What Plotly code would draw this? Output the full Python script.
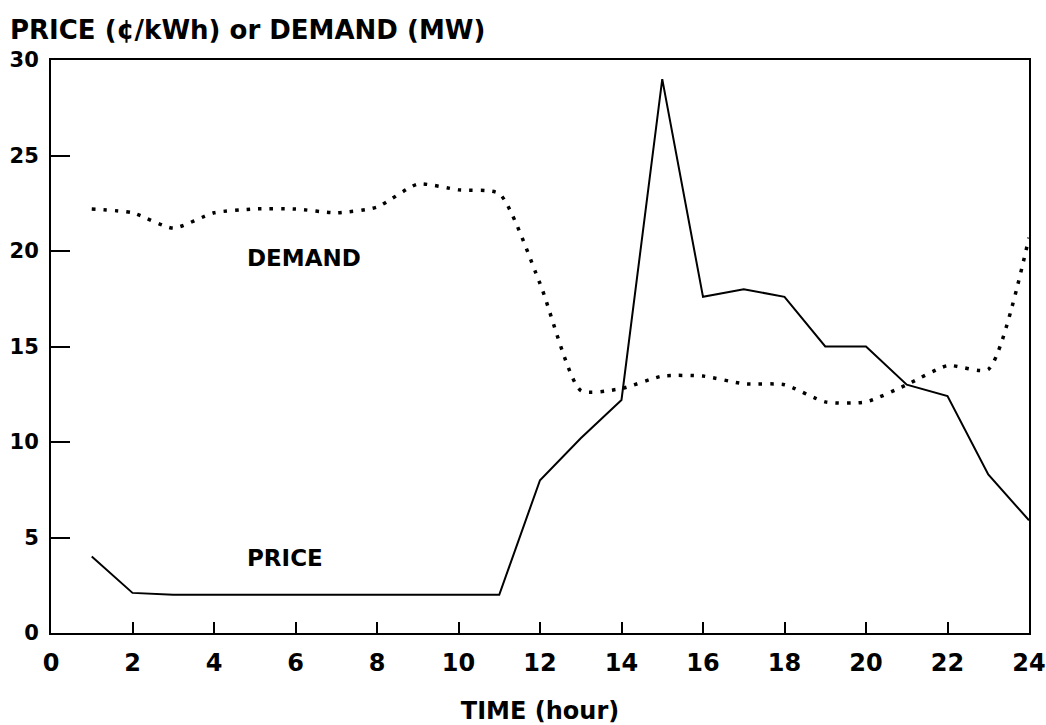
import plotly.graph_objects as go

hours = list(range(1, 25))
price = [4.0, 2.1, 2.0, 2.0, 2.0, 2.0, 2.0, 2.0, 2.0, 2.0, 2.0, 8.0,
         10.2, 12.2, 29.0, 17.6, 18.0, 17.6, 15.0, 15.0, 13.0, 12.4, 8.3, 5.9]
demand = [22.2, 22.0, 21.2, 22.0, 22.2, 22.2, 22.0, 22.3, 23.5, 23.2, 23.0, 18.3,
          12.7, 12.8, 13.45, 13.45, 13.05, 13.0, 12.1, 12.1, 13.0, 14.0, 13.8, 20.7]
x_ticks = list(range(0, 25, 2))
y_ticks = [0, 5, 10, 15, 20, 25, 30]

FONT = "DejaVu Sans"

fig = go.Figure()
fig.add_trace(go.Scatter(x=hours, y=demand, mode="lines",
                         line=dict(color="black", width=3.5, dash="3.5px,8px",
                                   shape="spline", smoothing=0.6),
                         showlegend=False))
fig.add_trace(go.Scatter(x=hours, y=price, mode="lines",
                         line=dict(color="black", width=2),
                         showlegend=False))

fig.add_annotation(x=6.2, y=19.65, text="<b>DEMAND</b>", showarrow=False,
                   font=dict(family=FONT, size=23, color="black"))
fig.add_annotation(x=5.75, y=3.95, text="<b>PRICE</b>", showarrow=False,
                   font=dict(family=FONT, size=23, color="black"))
fig.add_annotation(xref="paper", yref="paper", x=-0.044, y=1.0, yshift=30,
                   xanchor="left", yanchor="middle",
                   text="<b>PRICE (¢/kWh) or DEMAND (MW)</b>", showarrow=False,
                   font=dict(family=FONT, size=26, color="black"))

fig.update_layout(
    width=1046, height=725,
    margin=dict(l=51, r=17, t=60, b=92),
    paper_bgcolor="white", plot_bgcolor="white",
    font=dict(family=FONT, color="black"),
    xaxis=dict(range=[0, 24], tickvals=x_ticks, ticktext=[f"<b>{v}</b>" for v in x_ticks],
               ticks="inside", ticklen=11, tickwidth=2, tickcolor="black",
               showline=True, linewidth=2, linecolor="black", mirror=True,
               showgrid=False, zeroline=False, automargin=False,
               tickfont=dict(family=FONT, size=24, color="black"),
               ticklabelstandoff=7,
               title=dict(text="<b>TIME (hour)</b>", standoff=38,
                          font=dict(family=FONT, size=24, color="black"))),
    yaxis=dict(range=[0, 30], tickvals=y_ticks, ticktext=[f"<b>{v}</b>" for v in y_ticks],
               ticks="inside", ticklen=19, tickwidth=2, tickcolor="black",
               showline=True, linewidth=2, linecolor="black", mirror=True,
               showgrid=False, zeroline=False, automargin=False,
               tickfont=dict(family=FONT, size=21, color="black"),
               ticklabelstandoff=6),
)

fig.write_html("out.html", config={"displayModeBar": False},
               post_script="document.body.style.margin='0';document.body.style.overflow='hidden';")
